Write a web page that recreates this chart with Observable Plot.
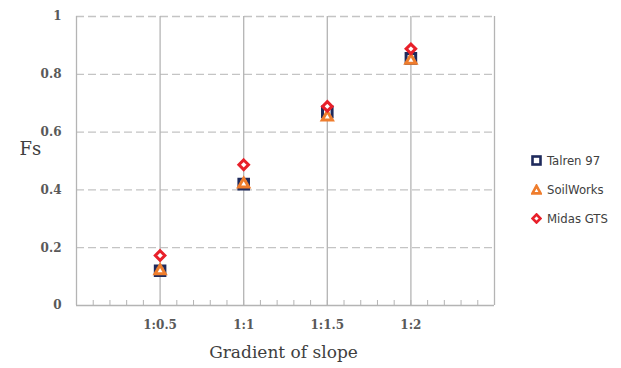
<!DOCTYPE html>
<html>
<head>
<meta charset="utf-8">
<script src="https://cdn.jsdelivr.net/npm/d3@7"></script>
<script src="https://cdn.jsdelivr.net/npm/@observablehq/plot@0.6"></script>
<style>
  html, body { margin: 0; padding: 0; background: #fff; }
  #wrap { position: relative; width: 621px; height: 368px; }
  #legend { position: absolute; left: 531px; top: 146px; font-family: "Liberation Sans Narrow", "DejaVu Sans Condensed", sans-serif; font-size: 13px; color: #404040; }
  #legend div { display: flex; align-items: center; height: 29px; }
  #legend svg { margin-right: 5px; }
</style>
</head>
<body>
<div id="wrap"><div id="chart"></div><div id="legend"></div></div>
<script>
const categories = ["1:0.5", "1:1", "1:1.5", "1:2"];
const talren = [0.12, 0.42, 0.67, 0.855];
const soilworks = [0.12, 0.42, 0.652, 0.848];
const midas = [0.173, 0.487, 0.689, 0.888];
const seriesNames = ["Talren 97", "SoilWorks", "Midas GTS"];
const yTicks = [0, 0.2, 0.4, 0.6, 0.8, 1];

const pos = categories.map((c, i) => i + 1);
const rows = (vals) => vals.map((v, i) => ({x: pos[i], y: v, cat: categories[i]}));
const minor = d3.range(0, 5.0001, 0.2);
const vlines = d3.range(0, 6);

const serif = "'DejaVu Serif', serif";
const H = 368, MT = 16, MB = 63;
const chart = Plot.plot({
  width: 621, height: H,
  marginLeft: 76, marginRight: 127, marginTop: MT, marginBottom: MB,
  x: {type: "linear", domain: [0, 5], axis: null},
  y: {type: "linear", domain: [0, 1], axis: null},
  style: {background: "white"},
  marks: [
    Plot.ruleY(yTicks.filter(d => d > 0), {stroke: "#c4c4c4", strokeWidth: 1.3, strokeDasharray: "8,4"}),
    Plot.ruleX(vlines, {stroke: "#b4b4b4", strokeWidth: 1.3}),
    Plot.ruleY([0], {stroke: "#b4b4b4", strokeWidth: 1.3}),
    Plot.ruleX(minor, {stroke: "#b4b4b4", strokeWidth: 1, insetTop: H - MT - MB - 5}),
    Plot.text(yTicks, {x: 0, y: d => d, text: d => String(d), textAnchor: "end", dx: -15, fontFamily: serif, fontWeight: "bold", fontSize: 12, fill: "#595959"}),
    Plot.text(pos, {x: d => d, y: 0, text: (d, i) => categories[i], dy: 20, fontFamily: serif, fontWeight: "bold", fontSize: 12, fill: "#595959"}),
    Plot.text(["Fs"], {frameAnchor: "left", dx: -57, dy: -12, fontFamily: serif, fontSize: 18, fill: "#404040"}),
    Plot.text(["Gradient of slope"], {frameAnchor: "bottom", dx: -2, dy: 52, fontFamily: serif, fontSize: 17, fill: "#404040"}),
    Plot.dot(rows(talren), {x: "x", y: "y", symbol: "square", r: 5.4, stroke: "#1f2a5c", strokeWidth: 3, fill: "white"}),
    Plot.dot(rows(soilworks), {x: "x", y: "y", symbol: "triangle2", r: 4.8, stroke: "#ef7d2d", strokeWidth: 3, fill: "white"}),
    Plot.dot(rows(midas), {x: "x", y: "y", symbol: "diamond2", r: 4.3, stroke: "#e8202a", strokeWidth: 3, fill: "white"})
  ]
});
document.getElementById("chart").appendChild(chart);

const symbols = [
  '<svg width="11" height="11"><rect x="1.5" y="1.5" width="8" height="8" fill="white" stroke="#1f2a5c" stroke-width="2.6"/></svg>',
  '<svg width="11" height="11"><path d="M5.5 1.8 L9.6 9.4 L1.4 9.4 Z" fill="white" stroke="#ef7d2d" stroke-width="2.6" stroke-linejoin="miter"/></svg>',
  '<svg width="11" height="11"><path d="M5.5 1.5 L9.5 5.5 L5.5 9.5 L1.5 5.5 Z" fill="white" stroke="#e8202a" stroke-width="2.6"/></svg>'
];
const legend = document.getElementById("legend");
seriesNames.forEach((n, i) => {
  const d = document.createElement("div");
  d.innerHTML = symbols[i] + "<span>" + n + "</span>";
  legend.appendChild(d);
});
</script>
</body>
</html>
